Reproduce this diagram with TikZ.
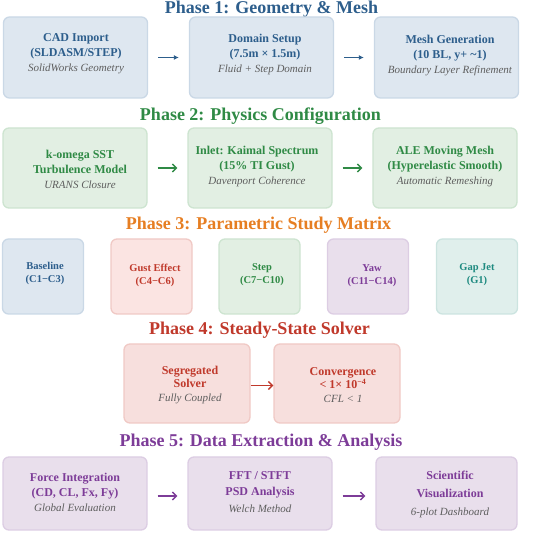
\documentclass[tikz,border=0pt]{standalone}
\usepackage{fontspec}
\setmainfont{Liberation Serif}
\usetikzlibrary{arrows.meta}
\definecolor{cBlue}{HTML}{2D5E8C}
\definecolor{fBlue}{HTML}{DEE7F0}
\definecolor{dBlue}{HTML}{CAD8E6}
\definecolor{cGreen}{HTML}{2F8A45}
\definecolor{fGreen}{HTML}{E2EFE3}
\definecolor{dGreen}{HTML}{CDE4D0}
\definecolor{cOrange}{HTML}{E67E22}
\definecolor{cRed}{HTML}{C0392B}
\definecolor{fRed}{HTML}{F7DFDD}
\definecolor{dRed}{HTML}{F0C9C5}
\definecolor{fRedB}{HTML}{FBE4E2}
\definecolor{cPurple}{HTML}{7D3C98}
\definecolor{fPurple}{HTML}{E9DFEC}
\definecolor{dPurple}{HTML}{DCCDE3}
\definecolor{cTeal}{HTML}{1E8A80}
\definecolor{fTeal}{HTML}{E0EFEC}
\definecolor{dTeal}{HTML}{CCE4E0}
\definecolor{cGray}{HTML}{5E5E5E}
\newcommand{\sub}[1]{\\{\fontsize{11}{15}\selectfont\mdseries\itshape\color{cGray}#1}}
\begin{document}
\begin{tikzpicture}[x=1pt,y=-1pt]
\tikzset{
  pbox/.style={rectangle, rounded corners=6pt, line width=1.3pt, inner sep=0pt},
  wbox/.style={pbox, minimum width=144pt},
  sbox/.style={pbox, minimum width=81pt, minimum height=75pt},
  ttl/.style={anchor=base, inner sep=0pt, font=\fontsize{18}{20}\selectfont\bfseries},
  txt/.style={align=center, inner sep=0pt, font=\fontsize{12}{15}\selectfont\bfseries},
  stxt/.style={align=center, inner sep=0pt, font=\fontsize{10.5}{13}\selectfont\bfseries},
  arr/.style={line width=1.4pt, shorten <=10pt, shorten >=10pt},
}
\useasboundingbox (0,0) rectangle (550,534);

% Phase 1
\node[ttl, text=cBlue] (p1) at (271.5,13.5) {Phase 1: Geometry \& Mesh};
\node[wbox, draw=dBlue, fill=fBlue, minimum height=81pt] (a1) at (75.5,57.5) {};
\node[wbox, draw=dBlue, fill=fBlue, minimum height=81pt] (a2) at (261.5,57.5) {};
\node[wbox, draw=dBlue, fill=fBlue, minimum height=81pt] (a3) at (446.5,57.5) {};
\node[txt, text=cBlue] (a1t) at (76,54) {CAD Import\\(SLDASM/STEP)\sub{SolidWorks Geometry}};
\node[txt, text=cBlue] (a2t) at (265,55) {Domain Setup\\(7.5m × 1.5m)\sub{Fluid + Step Domain}};
\node[txt, text=cBlue] (a3t) at (450,56) {Mesh Generation\\(10 BL, y+ \textasciitilde1)\sub{Boundary Layer Refinement}};
\draw[arr, draw=cBlue, -{Latex[length=5pt,width=5pt]}] (a1) -- (a2);
\draw[arr, draw=cBlue, -{Latex[length=5pt,width=5pt]}] (a2) -- (a3);

% Phase 2
\node[ttl, text=cGreen] (p2) at (260.5,121) {Phase 2: Physics Configuration};
\node[wbox, draw=dGreen, fill=fGreen, minimum height=80pt] (b1) at (75,168) {};
\node[wbox, draw=dGreen, fill=fGreen, minimum height=80pt] (b2) at (260,168) {};
\node[wbox, draw=dGreen, fill=fGreen, minimum height=80pt] (b3) at (445,168) {};
\node[txt, text=cGreen] (b1t) at (80,169) {k-omega SST\\Turbulence Model\sub{URANS Closure}};
\node[txt, text=cGreen] (b2t) at (257,167) {Inlet: Kaimal Spectrum\\(15\% TI Gust)\sub{Davenport Coherence}};
\node[txt, text=cGreen] (b3t) at (445,167) {ALE Moving Mesh\\(Hyperelastic Smooth)\sub{Automatic Remeshing}};
\draw[arr, draw=cGreen, -{Straight Barb[length=4pt,width=8pt]}] (b1) -- (b2);
\draw[arr, draw=cGreen, -{Straight Barb[length=4pt,width=8pt]}] (b2) -- (b3);

% Phase 3
\node[ttl, text=cOrange] (p3) at (258.5,230) {Phase 3: Parametric Study Matrix};
\node[sbox, draw=dBlue, fill=fBlue] (c1) at (43,276.5) {};
\node[sbox, draw=dRed, fill=fRedB] (c2) at (151.5,276.5) {};
\node[sbox, draw=dGreen, fill=fGreen] (c3) at (259.5,276.5) {};
\node[sbox, draw=dPurple, fill=fPurple] (c4) at (368,276.5) {};
\node[sbox, draw=dTeal, fill=fTeal] (c5) at (477,276.5) {};
\node[stxt, text=cBlue] (c1t) at (45,273.5) {Baseline\\(C1−C3)};
\node[stxt, text=cRed] (c2t) at (155,275.5) {Gust Effect\\(C4−C6)};
\node[stxt, text=cGreen] (c3t) at (262,275) {Step\\(C7−C10)};
\node[stxt, text=cPurple] (c4t) at (372,276) {Yaw\\(C11−C14)};
\node[stxt, text=cTeal] (c5t) at (477,275) {Gap Jet\\(G1)};

% Phase 4
\node[ttl, text=cRed] (p4) at (259.5,335) {Phase 4: Steady-State Solver};
\node[pbox, draw=dRed, fill=fRed, minimum width=126pt, minimum height=79pt] (d1) at (187,383.5) {};
\node[pbox, draw=dRed, fill=fRed, minimum width=126pt, minimum height=79pt] (d2) at (337,383.5) {};
\node[txt, text=cRed, font=\fontsize{12}{13.5}\selectfont\bfseries] (d1t) at (190,385) {Segregated\\Solver\sub{Fully Coupled}};
\node[txt, text=cRed, font=\fontsize{12}{13.5}\selectfont\bfseries] (d2t) at (343,385) {Convergence\\< 1× 10\textsuperscript{−4}\sub{CFL < 1}};
\draw[line width=1.4pt, draw=cRed, -{Straight Barb[length=4pt,width=8pt]}] ([yshift=-2pt]d1.east) -- ([yshift=-2pt]d2.west);

% Phase 5
\node[ttl, text=cPurple] (p5) at (261,447) {Phase 5: Data Extraction \& Analysis};
\node[wbox, draw=dPurple, fill=fPurple, minimum height=73pt] (e1) at (75,493.5) {};
\node[wbox, draw=dPurple, fill=fPurple, minimum height=73pt] (e2) at (260,493.5) {};
\node[pbox, draw=dPurple, fill=fPurple, minimum width=141pt, minimum height=73pt] (e3) at (446.5,493.5) {};
\node[txt, text=cPurple] (e1t) at (75,492) {Force Integration\\(CD, CL, Fx, Fy)\sub{Global Evaluation}};
\node[txt, text=cPurple, font=\fontsize{12}{16.5}\selectfont\bfseries] (e2t) at (260,492) {FFT / STFT\\PSD Analysis\sub{Welch Method}};
\node[txt, text=cPurple, font=\fontsize{12}{18}\selectfont\bfseries] (e3t) at (450,494) {Scientific\\Visualization\sub{6-plot Dashboard}};
\draw[arr, draw=cPurple, -{Straight Barb[length=4pt,width=8pt]}] ([yshift=-2.5pt]e1.east) -- ([yshift=-2.5pt]e2.west);
\draw[arr, draw=cPurple, -{Straight Barb[length=4pt,width=8pt]}] ([yshift=-2.5pt]e2.east) -- ([yshift=-2.5pt]e3.west);
\end{tikzpicture}
\end{document}
